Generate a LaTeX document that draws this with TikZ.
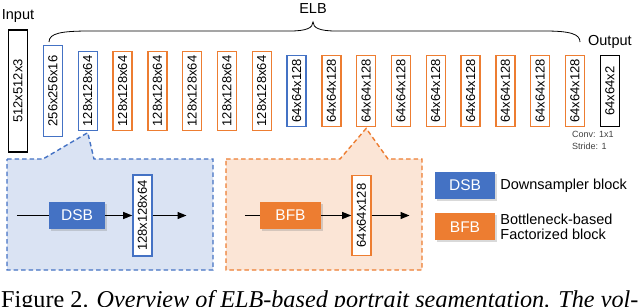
\documentclass[tikz,border=0pt]{standalone}
\usepackage{fontspec}
\setmainfont{Liberation Sans}
\newfontfamily\captionserif{Liberation Serif}
\usepackage{xcolor}
\usepackage{tikz}
\usetikzlibrary{arrows.meta,positioning,shadows}
\definecolor{elbblue}{HTML}{4472C4}
\definecolor{elborange}{HTML}{ED7D31}
\definecolor{elbbluebg}{HTML}{DAE3F3}
\definecolor{elborangebg}{HTML}{FBE5D6}
\definecolor{elbnote}{HTML}{404040}
\newcommand{\dimfont}{\fontsize{13}{15}\selectfont}
\newcommand{\blockfont}{\fontsize{15.5}{17}\selectfont}
\newcommand{\labelfont}{\fontsize{14.5}{15}\selectfont}
\newcommand{\vtext}[1]{\rotatebox{90}{#1}}

\begin{document}
\begin{tikzpicture}[
  x=1pt, y=-1pt,
  node distance=14.5pt,
  dimbox/.style={draw, line width=1.3pt, fill=white, minimum width=19pt,
                 inner sep=0pt, font=\dimfont},
  inbox/.style={dimbox, draw=black, line width=1.6pt},
  dsbbox/.style={dimbox, draw=elbblue},
  bfbbox/.style={dimbox, draw=elborange},
  h128/.style={minimum height=79pt},
  h64/.style={minimum height=70.5pt},
  block/.style={minimum height=27pt, inner sep=0pt, text=white, font=\blockfont,
                drop shadow={shadow xshift=1.5pt, shadow yshift=-1.5pt, opacity=0.3}},
  zone/.style={line width=1.4pt, dash pattern=on 4.5pt off 3pt},
  keytext/.style={inner sep=0pt, align=left, font=\labelfont},
  arrow/.style={-{Triangle[length=9pt, width=7pt]}, line width=1.2pt},
  brace/.style={line width=0.8pt}
]
  \useasboundingbox (0,0) rectangle (640,306);

  % ELB row
  \node[inbox, minimum height=122pt] (in) at (18,91) {\vtext{512x512x3}};
  \node[dsbbox, minimum height=91pt, right=of in] (d1) {\vtext{256x256x16}};
  \node[dsbbox, h128, right=of d1] (d2) {\vtext{128x128x64}};
  \node[bfbbox, h128, right=of d2] (f1) {\vtext{128x128x64}};
  \node[bfbbox, h128, right=of f1] (f2) {\vtext{128x128x64}};
  \node[bfbbox, h128, right=of f2] (f3) {\vtext{128x128x64}};
  \node[bfbbox, h128, right=of f3] (f4) {\vtext{128x128x64}};
  \node[bfbbox, h128, right=of f4] (f5) {\vtext{128x128x64}};
  \node[dsbbox, h64, right=of f5] (d3) {\vtext{64x64x128}};
  \node[bfbbox, h64, right=of d3] (f6) {\vtext{64x64x128}};
  \node[bfbbox, h64, right=of f6] (f7) {\vtext{64x64x128}};
  \node[bfbbox, h64, right=of f7] (f8) {\vtext{64x64x128}};
  \node[bfbbox, h64, right=of f8] (f9) {\vtext{64x64x128}};
  \node[bfbbox, h64, right=of f9] (f10) {\vtext{64x64x128}};
  \node[bfbbox, h64, right=of f10] (f11) {\vtext{64x64x128}};
  \node[bfbbox, h64, right=of f11] (f12) {\vtext{64x64x128}};
  \node[bfbbox, h64, right=of f12] (f13) {\vtext{64x64x128}};
  \node[inbox, minimum height=71pt, right=of f13] (out) {\vtext{64x64x2}};

  \node[font=\labelfont, above=3.6pt of in] (inlabel) {Input};
  \node[font=\labelfont, above=3pt of out] (outlabel) {Output};
  \node[inner sep=0pt, anchor=north west, align=left, text=elbnote,
        font=\fontsize{9}{12}\selectfont] (convnote) at (572,131) {Conv: 1x1\\Stride: 1};

  % brace over the ELB blocks
  \coordinate (elbL) at (49,42);
  \coordinate (elbR) at (580,42);
  \coordinate (elbT) at (313,22);
  \draw[brace] (elbL) .. controls (49,33) and (62,31) .. (90,31) -- (290,31)
    .. controls (306,31) and (313,28) .. (elbT)
    .. controls (313,28) and (320,31) .. (336,31) -- (545,31)
    .. controls (570,31) and (580,34) .. (elbR);
  \node[font=\labelfont, above=5pt of elbT] (elblabel) {ELB};

  % zoomed blocks
  \draw[zone, draw=elbblue, fill=elbbluebg] (7,159) -- (43,159)
    -- ([yshift=-1.5pt]d2.south) -- (94,159) -- (213,159) -- (213,270) -- (7,270) -- cycle;
  \draw[zone, draw=elborange, fill=elborangebg] (226,159) -- (340,159)
    -- ([yshift=-1.5pt]f7.south) -- (388,159) -- (422,159) -- (422,270) -- (226,270) -- cycle;

  \node[block, fill=elbblue, minimum width=56pt] (dsb) at (77,215.5) {DSB};
  \node[dsbbox, minimum height=81pt, right=27pt of dsb] (dsbout) {\vtext{128x128x64}};
  \coordinate[left=32pt of dsb] (dsbin);
  \coordinate[right=34pt of dsbout] (dsbend);
  \draw[line width=1.2pt] (dsbin) -- (dsb);
  \draw[arrow] (dsb) -- (dsbout);
  \draw[arrow] (dsbout) -- (dsbend);

  \node[block, fill=elborange, minimum width=61pt] (bfb) at (290.5,215.5) {BFB};
  \node[bfbbox, minimum height=80pt, right=30pt of bfb] (bfbout) {\vtext{64x64x128}};
  \coordinate[left=15pt of bfb] (bfbin);
  \coordinate[right=38pt of bfbout] (bfbend);
  \draw[line width=1.2pt] (bfbin) -- (bfb);
  \draw[arrow] (bfb) -- (bfbout);
  \draw[arrow] (bfbout) -- (bfbend);

  % legend
  \node[block, fill=elbblue, minimum width=60pt] (keydsb) at (465,185.5) {DSB};
  \node[block, fill=elborange, minimum width=60pt, below=14pt of keydsb] (keybfb) {BFB};
  \node[keytext, right=5pt of keydsb] (keydsbtext) {Downsampler block};
  \node[keytext, right=5pt of keybfb] (keybfbtext) {Bottleneck-based\\Factorized block};

  \node[anchor=base west, inner sep=0pt, font=\captionserif\fontsize{24.2}{28}\selectfont]
    (caption) at (1,307) {Figure 2. \textit{Overview of ELB-based portrait segmentation. The vol-}};
\end{tikzpicture}
\end{document}
